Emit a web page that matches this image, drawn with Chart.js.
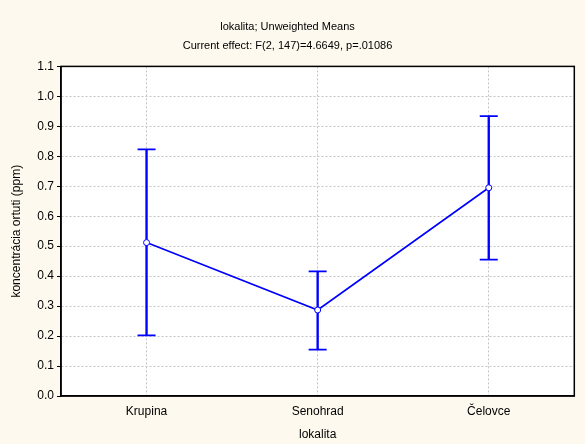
<!DOCTYPE html>
<html>
<head>
<meta charset="utf-8">
<script src="https://cdn.jsdelivr.net/npm/chart.js@4.4.0/dist/chart.umd.min.js"></script>
<style>
  html, body { margin: 0; padding: 0; background: #FDF9EE; }
  #wrap { width: 585px; height: 444px; }
</style>
</head>
<body>
<div id="wrap"><canvas id="c" width="585" height="444"></canvas></div>
<script>
// Mercury concentration by locality: unweighted means with confidence limits
const categories = ['Krupina', 'Senohrad', 'Čelovce'];
const means = [0.512, 0.287, 0.695];
const upper = [0.823, 0.416, 0.934];
const lower = [0.202, 0.155, 0.455];
const yTicks = [0.0, 0.1, 0.2, 0.3, 0.4, 0.5, 0.6, 0.7, 0.8, 0.9, 1.0, 1.1];

const BLUE = '#0000FF';

const ranges = categories.map((c, i) => [lower[i], upper[i]]);

const framePlugin = {
  id: 'frame',
  beforeDraw(chart) {
    const { ctx, chartArea: a } = chart;
    ctx.save();
    ctx.fillStyle = '#FDF9EE';
    ctx.fillRect(0, 0, chart.width, chart.height);
    ctx.fillStyle = '#FFFFFF';
    ctx.fillRect(a.left, a.top, a.right - a.left, a.bottom - a.top);
    ctx.restore();
  },
  afterDraw(chart) {
    const { ctx, chartArea: a } = chart;
    ctx.save();
    ctx.strokeStyle = '#000000';
    ctx.lineWidth = 1.5;
    ctx.strokeRect(a.left, a.top, a.right - a.left, a.bottom - a.top);
    ctx.restore();
  }
};

new Chart(document.getElementById('c'), {
  data: {
    labels: categories,
    datasets: [
      {
        type: 'line',
        data: means,
        borderColor: BLUE,
        borderWidth: 1.6,
        pointStyle: 'circle',
        pointRadius: 3,
        pointBorderWidth: 1,
        pointBackgroundColor: '#FFFFFF',
        pointBorderColor: BLUE,
        tension: 0,
        order: 0
      },
      {
        type: 'line',
        data: upper,
        showLine: false,
        pointStyle: 'line',
        pointRadius: 9,
        pointBorderWidth: 1.7,
        pointBorderColor: BLUE,
        borderColor: BLUE,
        order: 1
      },
      {
        type: 'line',
        data: lower,
        showLine: false,
        pointStyle: 'line',
        pointRadius: 9,
        pointBorderWidth: 1.7,
        pointBorderColor: BLUE,
        borderColor: BLUE,
        order: 1
      },
      {
        type: 'bar',
        data: ranges,
        backgroundColor: BLUE,
        borderWidth: 0,
        barThickness: 1.7,
        grouped: false,
        order: 2
      }
    ]
  },
  options: {
    responsive: false,
    animation: false,
    events: [],
    layout: { padding: { left: 0, right: 10, top: 0, bottom: 0 } },
    plugins: {
      legend: { display: false },
      tooltip: { enabled: false },
      title: {
        display: true,
        text: 'lokalita; Unweighted Means',
        color: '#000000',
        font: { family: 'Liberation Sans, Arial, sans-serif', size: 11, weight: 'normal' },
        padding: { top: 20, bottom: 6 }
      },
      subtitle: {
        display: true,
        text: 'Current effect: F(2, 147)=4.6649, p=.01086',
        color: '#000000',
        font: { family: 'Liberation Sans, Arial, sans-serif', size: 11, weight: 'normal' },
        padding: { top: 0, bottom: 14 }
      }
    },
    scales: {
      x: {
        type: 'category',
        offset: true,
        grid: {
          offset: false,
          color: '#C4C4C4',
          lineWidth: 1,
          drawTicks: false
        },
        border: { display: true, color: '#000000', width: 1.5, dash: [2, 2] },
        ticks: {
          color: '#000000',
          padding: 8,
          font: { family: 'Liberation Sans, Arial, sans-serif', size: 12 }
        },
        title: {
          display: true,
          text: 'lokalita',
          color: '#000000',
          font: { family: 'Liberation Sans, Arial, sans-serif', size: 12 },
          padding: { top: 0, bottom: 2 }
        },
        afterFit(scale) { scale.height = 48; }
      },
      y: {
        min: 0,
        max: 1.1,
        afterBuildTicks(scale) { scale.ticks = yTicks.map(v => ({ value: v })); },
        grid: {
          color: (ctx) => (ctx.tick && (ctx.tick.value === 0 || ctx.tick.value >= 1.1 - 1e-9)) ? 'rgba(0,0,0,0)' : '#C4C4C4',
          tickColor: '#000000',
          tickLength: 4,
          lineWidth: 1
        },
        border: { display: true, color: '#000000', width: 1.5, dash: [2, 2] },
        ticks: {
          color: '#000000',
          padding: 3,
          font: { family: 'Liberation Sans, Arial, sans-serif', size: 12 },
          callback: (v) => Number(v).toFixed(1)
        },
        title: {
          display: true,
          text: 'koncentrácia ortuti (ppm)',
          color: '#000000',
          font: { family: 'Liberation Sans, Arial, sans-serif', size: 12 },
          padding: { top: 9, bottom: 0 }
        },
        afterFit(scale) { scale.width = 61; }
      }
    }
  },
  plugins: [framePlugin]
});
</script>
</body>
</html>
